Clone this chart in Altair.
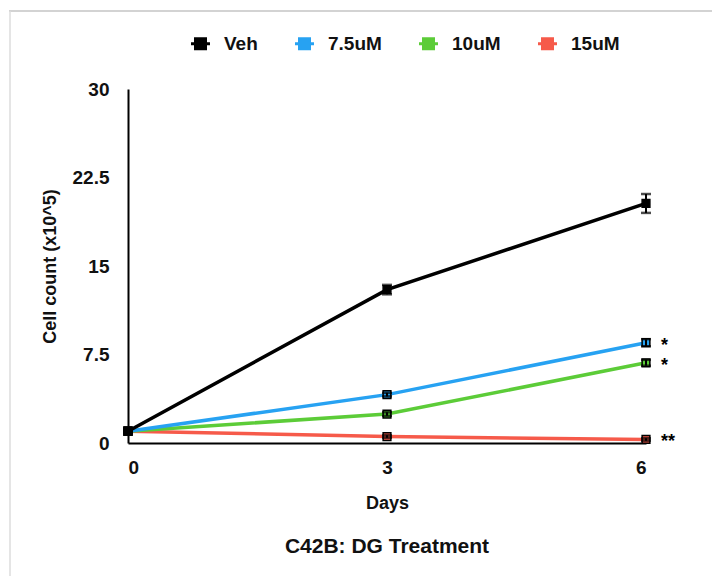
import altair as alt
import pandas as pd

days = [0, 3, 6]
series = ["Veh", "7.5uM", "10uM", "15uM"]
colors = ["#000000", "#27a2f2", "#5ccc38", "#f65a4a"]

veh = [1.0, 13.0, 20.3]
veh_err = [0.1, 0.4, 0.8]
u75 = [1.0, 4.1, 8.5]
u75_err = [0.1, 0.15, 0.3]
u10 = [1.0, 2.45, 6.8]
u10_err = [0.1, 0.15, 0.25]
u15 = [1.0, 0.55, 0.3]
u15_err = [0.05, 0.1, 0.1]

sig_series = ["7.5uM", "10uM", "15uM"]
sig_labels = ["*", "*", "**"]
sig_values = [8.5, 6.8, 0.3]

y_ticks = [0, 7.5, 15, 22.5, 30]
chart_title = "C42B: DG Treatment"

rows = []
for name, vals, errs in [("15uM", u15, u15_err), ("10uM", u10, u10_err),
                         ("7.5uM", u75, u75_err), ("Veh", veh, veh_err)]:
    for d, v, e in zip(days, vals, errs):
        rows.append({"series": name, "day": d, "value": v, "lo": v - e, "hi": v + e})
df = pd.DataFrame(rows)
sig_df = pd.DataFrame({"series": sig_series, "label": sig_labels,
                       "value": sig_values, "day": [6, 6, 6]})

FONT = "Liberation Sans"
legend_symbol = "M-1,-1H1V-0.24H1.46V0.24H1V1H-1V0.24H-1.46V-0.24H-1Z"

x_enc = alt.X("day:Q", scale=alt.Scale(domain=[0, 6], nice=False),
              axis=alt.Axis(values=days, title="Days", grid=False, ticks=False,
                            labelPadding=15, titlePadding=17, domainWidth=2,
                            labelExpr="toString(datum.value)",
                            domainColor="#000000"))
y_enc = alt.Y("value:Q", scale=alt.Scale(domain=[0, 30], nice=False),
              axis=alt.Axis(values=y_ticks, title="Cell count (x10^5)", grid=False,
                            ticks=False, labelPadding=19, titlePadding=13,
                            labelExpr="toString(datum.value)", domainWidth=2,
                            domainColor="#000000"))
color_enc = alt.Color("series:N", scale=alt.Scale(domain=series, range=colors),
                      legend=alt.Legend(title=None, orient="none", direction="horizontal",
                                        legendX=63, legendY=-55, columns=4,
                                        symbolType=legend_symbol, symbolSize=169,
                                        symbolStrokeWidth=0, columnPadding=37,
                                        labelOffset=14, labelFontSize=19,
                                        labelFontWeight="bold", labelFont=FONT,
                                        labelColor="#111111"))

base = alt.Chart(df)

lines = base.mark_line(strokeWidth=3.5).encode(
    x=x_enc, y=y_enc, color=color_enc, detail="series:N",
    order="day:Q")

points = base.mark_point(shape="square", filled=True, size=60, opacity=1,
                         stroke="#000000", strokeWidth=1.5).encode(
    x="day:Q", y="value:Q",
    color=alt.Color("series:N", scale=alt.Scale(domain=series, range=colors), legend=None))

errs = base.mark_errorbar(ticks=alt.TickConfig(size=10, thickness=2.5), thickness=2,
                          color="#000000").encode(
    x="day:Q", y=alt.Y("lo:Q", title="Cell count (x10^5)"), y2="hi:Q")

sig = alt.Chart(sig_df).mark_text(align="left", baseline="middle", dx=15, dy=3,
                                  fontSize=18, fontWeight="bold", font=FONT,
                                  color="#000000").encode(
    x="day:Q", y="value:Q", text="label:N")

title_text = alt.Chart(pd.DataFrame({"t": [chart_title]})).mark_text(
    fontSize=21, fontWeight="bold", font=FONT, color="#111111",
    align="center", baseline="middle").encode(
    x=alt.value(259), y=alt.value(458), text="t:N")

frame_top = alt.Chart(pd.DataFrame({"k": [0]})).mark_rule(color="#c4c4c4", strokeWidth=1.5).encode(
    x=alt.value(-119), x2=alt.value(600), y=alt.value(-78))
frame_left = alt.Chart(pd.DataFrame({"k": [0]})).mark_rule(color="#dcdcdc", strokeWidth=1.5).encode(
    x=alt.value(-118), y=alt.value(-78), y2=alt.value(500))

chart = alt.layer(frame_top, frame_left, lines, points, errs, sig, title_text).properties(
    width=518, height=354,
    autosize=alt.AutoSizeParams(type="none"),
    padding={"left": 128, "top": 89, "right": 66, "bottom": 133},
).configure_axis(
    labelFont=FONT, titleFont=FONT, labelFontSize=19, titleFontSize=18,
    labelFontWeight="bold", titleFontWeight="bold", labelColor="#111111",
    titleColor="#111111"
).configure_view(stroke=None)

chart.save("out.html", embed_options={"renderer": "svg", "actions": False})
